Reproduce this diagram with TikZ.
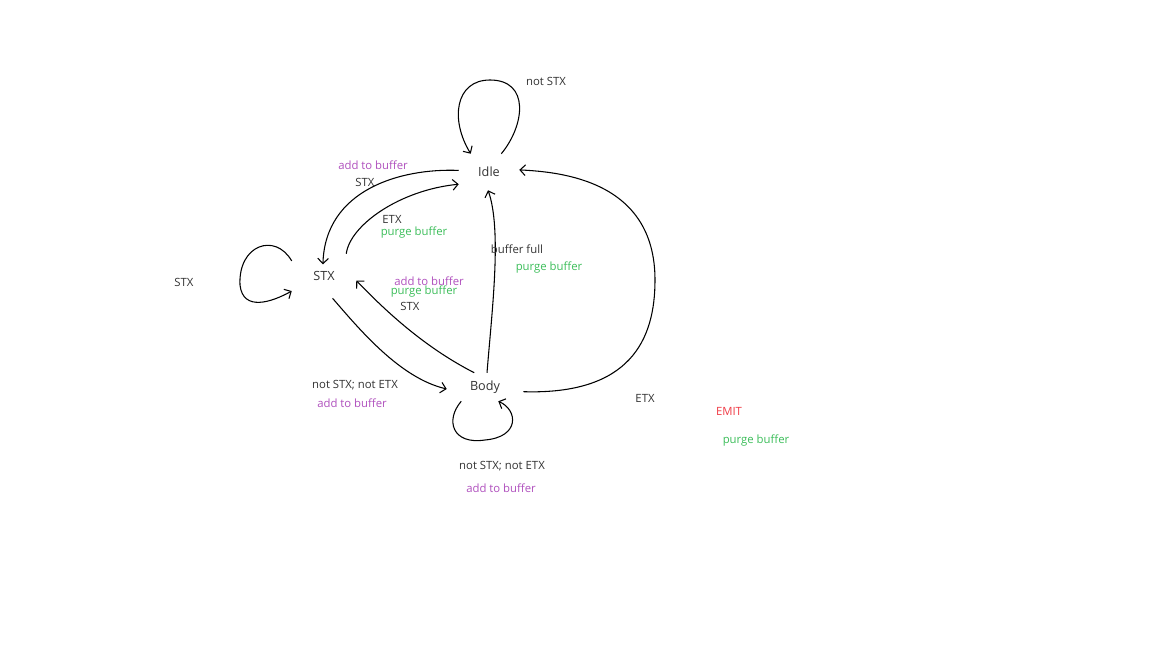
\documentclass[tikz,border=0pt]{standalone}
\usepackage{fontspec}
\setmainfont{Open Sans}
\usetikzlibrary{arrows.meta}
\definecolor{addcol}{HTML}{B050BE}
\definecolor{purgecol}{HTML}{3CBE5A}
\definecolor{emitcol}{HTML}{F03C46}
\definecolor{txtcol}{HTML}{333333}
\tikzset{
  state/.style={inner sep=0pt,text=txtcol,font=\fontsize{9.5}{10}\selectfont},
  lbl/.style={inner sep=0pt,text=txtcol,font=\fontsize{8.5}{10}\selectfont},
  addlbl/.style={lbl,text=addcol},
  purgelbl/.style={lbl,text=purgecol},
  emitlbl/.style={lbl,text=emitcol},
  edge/.style={line width=0.8pt,-{Straight Barb[length=4pt,width=8pt]}}
}
\begin{document}
\begin{tikzpicture}[x=0.75pt,y=-0.75pt]
\useasboundingbox[fill=white] (0,0) rectangle (1152,648);

% states
\node[state,minimum width=45pt,minimum height=27pt] (idle) at (489,172) {Idle};
\node[state,minimum width=48pt,minimum height=33pt] (stx) at (324,276) {STX};
\node[state,minimum width=57pt,minimum height=21pt] (body) at (485,387) {Body};

% transitions
\draw[edge] (idle.56) .. controls (525,125) and (530,80) .. (490,80) .. controls (455,80) and (450,120) .. (idle.135);
\draw[edge,shorten >=-8pt] (idle.177) .. controls (400,168) and (325,190) .. (stx.92);
\draw[edge] (stx.45) .. controls (350,225) and (400,190) .. (idle.202);
\draw[edge] (stx.155) .. controls (275,232) and (238,245) .. (240,285) .. controls (243,312) and (272,302) .. (stx.205);
\draw[edge] (stx.291) .. controls (360,330) and (400,378) .. (body.183);
\draw[edge] (body.127) .. controls (420,345) and (380,305) .. (stx.-8);
\draw[edge] (body.82) .. controls (492,310) and (502,230) .. (idle.267);
\draw[edge] (body.211) .. controls (445,420) and (452,445) .. (485,440) .. controls (520,437) and (518,410) .. (body.-47);
\draw[edge] (body.-7) .. controls (630,395) and (655,340) .. (655,280) .. controls (655,180) and (560,172) .. (idle.4);

% labels
\node[lbl] (l1) at (546,81) {not STX};
\node[addlbl] (l2) at (373,165) {add to buffer};
\node[lbl] (l3) at (365,182) {STX};
\node[lbl] (l4) at (392,219) {ETX};
\node[purgelbl] (l5) at (414,233) {purge buffer};
\node[lbl] (l6) at (184,282) {STX};
\node[lbl] (l7) at (517,249) {buffer full};
\node[purgelbl] (l8) at (549,268) {purge buffer};
\node[addlbl] (l9) at (429,281) {add to buffer};
\node[purgelbl] (l10) at (424,292) {purge buffer};
\node[lbl] (l11) at (410,306) {STX};
\node[lbl] (l12) at (355,385) {not STX; not ETX};
\node[addlbl] (l13) at (352,403) {add to buffer};
\node[lbl] (l14) at (502,466) {not STX; not ETX};
\node[addlbl] (l15) at (501,488) {add to buffer};
\node[lbl] (l16) at (645,398) {ETX};
\node[emitlbl] (l17) at (729,411) {EMIT};
\node[purgelbl] (l18) at (756,441) {purge buffer};
\end{tikzpicture}
\end{document}
